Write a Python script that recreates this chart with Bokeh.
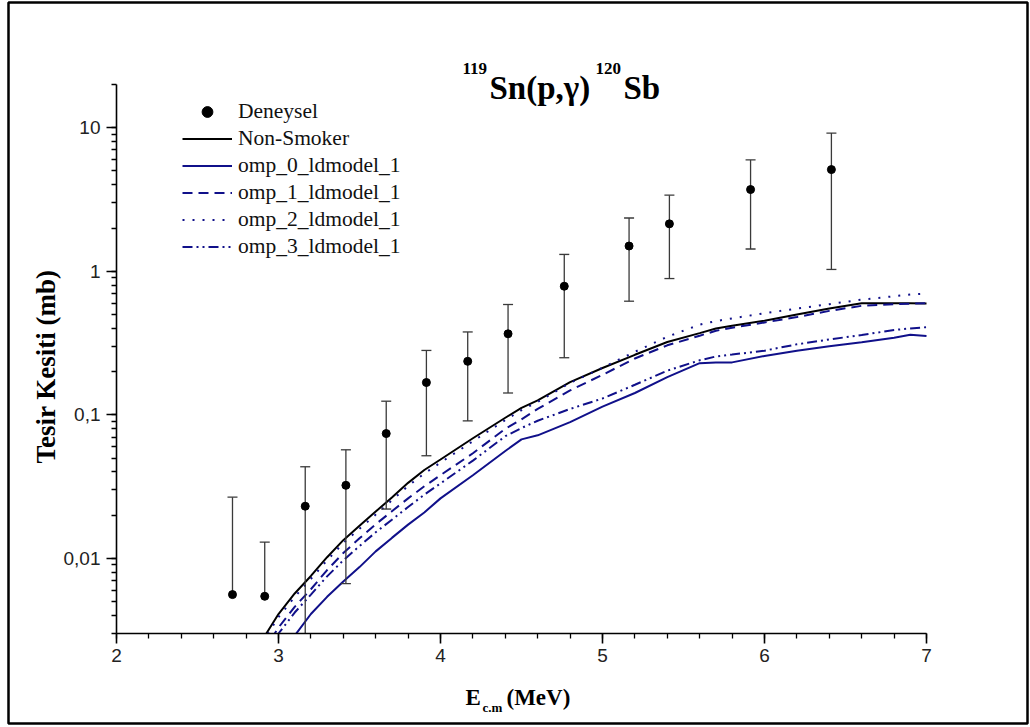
import math
from bokeh.plotting import figure
from bokeh.models import (Range1d, FixedTicker, Label, Legend, LegendItem, BoxAnnotation,
                          CustomJSTickFormatter)
from bokeh.embed import file_html
from bokeh.resources import INLINE

# ---------------- data ----------------
exp_E = [2.716, 2.915, 3.165, 3.416, 3.665, 3.913, 4.168, 4.417, 4.764, 5.164, 5.413, 5.914, 6.413]
exp_sigma = [0.0056, 0.00545, 0.0231, 0.0323, 0.0741, 0.168, 0.236, 0.367, 0.787, 1.50, 2.14, 3.71, 5.11]
exp_upper = [0.0267, 0.0130, 0.0435, 0.0571, 0.1245, 0.281, 0.378, 0.587, 1.31, 2.35, 3.39, 5.97, 9.18]
exp_lower = [None, None, 0.001, 0.00667, 0.0221, 0.0519, 0.0908, 0.142, 0.25, 0.619, 0.89, 1.43, 1.03]

model_E = [2.9, 3.0, 3.1, 3.2, 3.3, 3.4, 3.5, 3.6, 3.7, 3.8, 3.9, 4.0, 4.2, 4.4, 4.5, 4.6,
           4.8, 5.0, 5.2, 5.4, 5.6, 5.7, 5.8, 6.0, 6.2, 6.4, 6.6, 6.8, 6.9, 7.0]
non_smoker = [0.0027, 0.0041, 0.0057, 0.00755, 0.0102, 0.0134, 0.0169, 0.0212, 0.0266, 0.0336,
              0.0413, 0.0489, 0.0687, 0.0955, 0.112, 0.126, 0.169, 0.212, 0.262, 0.322,
              0.371, 0.399, 0.418, 0.453, 0.50, 0.551, 0.60, 0.60, 0.60, 0.597]
omp_0 = [0.0013, 0.0021, 0.0029, 0.0041, 0.0054, 0.0069, 0.0087, 0.0112, 0.0139, 0.0172,
         0.0209, 0.0262, 0.038, 0.056, 0.0675, 0.072, 0.089, 0.114, 0.142, 0.183,
         0.229, 0.232, 0.232, 0.257, 0.28, 0.30, 0.32, 0.345, 0.362, 0.354]
omp_1 = [0.0022, 0.0033, 0.0046, 0.0061, 0.0083, 0.0109, 0.0138, 0.0173, 0.0213, 0.0262,
         0.0318, 0.038, 0.054, 0.080, 0.093, 0.11, 0.148, 0.19, 0.247, 0.305,
         0.356, 0.385, 0.405, 0.44, 0.48, 0.53, 0.575, 0.59, 0.595, 0.60]
omp_2 = [0.0026, 0.0039, 0.0054, 0.0072, 0.0097, 0.0128, 0.0161, 0.0202, 0.0254, 0.032,
         0.039, 0.0465, 0.0655, 0.092, 0.108, 0.123, 0.167, 0.213, 0.275, 0.35,
         0.425, 0.45, 0.47, 0.51, 0.55, 0.59, 0.635, 0.67, 0.69, 0.70]
omp_3 = [0.002, 0.003, 0.0042, 0.0056, 0.0075, 0.0097, 0.0122, 0.0152, 0.0186, 0.0228,
         0.0278, 0.0333, 0.048, 0.071, 0.081, 0.091, 0.11, 0.13, 0.162, 0.203,
         0.24, 0.255, 0.263, 0.28, 0.31, 0.335, 0.36, 0.39, 0.40, 0.408]

series_labels = ["Deneysel", "Non-Smoker", "omp_0_ldmodel_1", "omp_1_ldmodel_1",
                 "omp_2_ldmodel_1", "omp_3_ldmodel_1"]

x_bounds = (2, 7)
y_bounds = (0.003, 20)
x_ticks = [2, 3, 4, 5, 6, 7]
x_minor = [2 + 0.2 * i for i in range(26)]
y_ticks = [0.01, 0.1, 1, 10]
y_tick_labels = ["0,01", "0,1", "1", "10"]
y_minor = [m * 10.0 ** k for k in range(-3, 2) for m in range(1, 10)
           if 0.003 <= m * 10.0 ** k <= 20] + [20]

title_parts = ["119", "Sn(p,\u03b3)", "120", "Sb"]
xlabel_parts = ["E", "c.m", "(MeV)"]
ylabel = "Tesir Kesiti (mb)"

# ---------------- layout (canvas pixels) ----------------
W, H = 1030, 727
BL, BT, BR, BB = 8, 2, 1027, 723        # outer box = plot frame
AL, AR, AT, AB = 116, 926, 84, 633      # axis box

pxx = (AR - AL) / (x_bounds[1] - x_bounds[0])
x_start = x_bounds[0] - (AL - BL) / pxx
x_end = x_bounds[1] + (BR - AR) / pxx
ly0, ly1 = math.log10(y_bounds[0]), math.log10(y_bounds[1])
pxy = (AB - AT) / (ly1 - ly0)
y_end = 10 ** (ly1 + (AT - BT) / pxy)
y_start = 10 ** (ly0 - (BB - AB) / pxy)

p = figure(width=W, height=H, y_axis_type="log",
           x_range=Range1d(x_start, x_end), y_range=Range1d(y_start, y_end),
           output_backend="svg", toolbar_location=None,
           min_border_left=BL, min_border_right=W - BR,
           min_border_top=BT, min_border_bottom=H - BB)
p.title.visible = False
p.xgrid.visible = False
p.ygrid.visible = False
p.outline_line_color = "black"
p.outline_line_width = 2.5
p.background_fill_color = "white"
p.border_fill_color = "white"

NAVY = "#10108a"

def ln(y, **kw):
    return p.line(model_E, y, **kw)

r_ns = ln(non_smoker, line_color="black", line_width=2)
r_0 = ln(omp_0, line_color=NAVY, line_width=2)
r_1 = ln(omp_1, line_color=NAVY, line_width=2, line_dash="10 6")
r_2 = ln(omp_2, line_color=NAVY, line_width=2, line_dash="2 8")
r_3 = ln(omp_3, line_color=NAVY, line_width=2, line_dash="10 4 2 4 2 4")

# error bars
ERR = "#3a3a3a"
seg_lo = [lo if lo is not None else s for lo, s in zip(exp_lower, exp_sigma)]
p.segment(x0=exp_E, y0=seg_lo, x1=exp_E, y1=exp_upper, line_color=ERR, line_width=1.3)
p.scatter(x=exp_E, y=exp_upper, marker="dash", size=10, line_color=ERR, line_width=1.3)
lo_E = [e for e, lo in zip(exp_E, exp_lower) if lo is not None]
lo_v = [lo for lo in exp_lower if lo is not None]
p.scatter(x=lo_E, y=lo_v, marker="dash", size=10, line_color=ERR, line_width=1.3)
r_exp = p.scatter(x=exp_E, y=exp_sigma, marker="circle", size=8, fill_color="black", line_color="black")

# white mask below the x axis: the data area ends at the axis, as in the original
all_vals = non_smoker + omp_0 + omp_1 + omp_2 + omp_3 + lo_v
p.add_layout(BoxAnnotation(left=x_bounds[0], right=x_bounds[1], top=y_bounds[0],
                           bottom=max(min(all_vals) * 0.85, y_start * 1.15),
                           fill_color="white", fill_alpha=1, line_alpha=0, level="glyph"))

# axes at fixed positions, limited to the data box
ax, ay = p.xaxis[0], p.yaxis[0]
ax.fixed_location = y_bounds[0]
ay.fixed_location = x_bounds[0]
ax.bounds = x_bounds
ay.bounds = y_bounds
ax.ticker = FixedTicker(ticks=x_ticks, minor_ticks=x_minor)
ay.ticker = FixedTicker(ticks=y_ticks, minor_ticks=y_minor)
ay.formatter = CustomJSTickFormatter(args=dict(vals=y_ticks, labs=y_tick_labels), code="""
    for (let i = 0; i < vals.length; i++) {
        if (Math.abs(vals[i] - tick) <= 1e-9 * Math.max(1, Math.abs(vals[i]))) return labs[i];
    }
    return '';
""")
for a in (ax, ay):
    a.axis_line_color = "black"
    a.axis_line_width = 1.6
    a.major_tick_line_color = "black"
    a.minor_tick_line_color = "black"
    a.major_tick_line_width = 1.6
    a.minor_tick_line_width = 1.3
    a.major_tick_out = 10
    a.major_tick_in = 0
    a.minor_tick_out = 5
    a.minor_tick_in = 0
    a.major_label_text_font = "Liberation Sans"
    a.major_label_text_font_size = "19px"
    a.major_label_text_color = "#222222"
ax.major_label_standoff = 5
ay.major_label_standoff = 6

# legend
leg = Legend(items=[LegendItem(label=series_labels[0], renderers=[r_exp]),
                    LegendItem(label=series_labels[1], renderers=[r_ns]),
                    LegendItem(label=series_labels[2], renderers=[r_0]),
                    LegendItem(label=series_labels[3], renderers=[r_1]),
                    LegendItem(label=series_labels[4], renderers=[r_2]),
                    LegendItem(label=series_labels[5], renderers=[r_3])],
             location=(182 - BL, BB - 98 - 6 * 27), border_line_color=None,
             background_fill_alpha=0, padding=0, margin=0, spacing=0,
             glyph_width=50, glyph_height=27, label_height=27, label_standoff=6,
             label_text_font="Liberation Serif", label_text_font_size="21.5px",
             label_text_color="#111111")
p.add_layout(leg)

def lab(text, X, Y, size, **kw):
    p.add_layout(Label(x=X - BL, y=BB - Y, x_units="screen", y_units="screen", text=text,
                       text_font="Liberation Serif", text_font_style="bold",
                       text_font_size=size, text_baseline="alphabetic", text_color="black", **kw))

# title
lab(title_parts[0], 462, 68, "17px")
lab(title_parts[1], 489, 87, "33px")
lab(title_parts[2], 595, 68, "17px")
lab(title_parts[3], 623, 87, "33px")
# x label
lab(xlabel_parts[0], 465, 697, "23px")
lab(xlabel_parts[1], 482, 707, "13px")
lab(xlabel_parts[2], 506, 697, "23px")
# y label
lab(ylabel, 45, 366, "27px", angle=math.pi / 2, text_align="center")

open("out.html", "w").write(file_html(p, INLINE))
